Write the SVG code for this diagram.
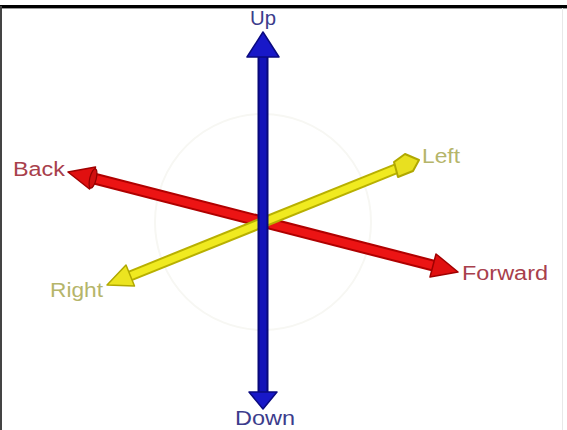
<svg xmlns="http://www.w3.org/2000/svg" width="567" height="430" viewBox="0 0 567 430">
<style>
.lbl{font-family:"Liberation Sans",Arial,sans-serif;font-size:20px}
.blue{fill:#3c3c8c}
.red{fill:#a8404c}
.yel{fill:#b5b56a}
</style>
<rect width="567" height="430" fill="#ffffff"/>
<line x1="0" y1="6.5" x2="567" y2="6.5" stroke="#000" stroke-width="3"/>
<line x1="0" y1="8.5" x2="567" y2="8.5" stroke="#999" stroke-width="1"/>
<line x1="1" y1="6" x2="1" y2="430" stroke="#444" stroke-width="2"/>
<line x1="562.5" y1="8" x2="562.5" y2="430" stroke="#e8e8e8" stroke-width="1"/>
<circle cx="263" cy="222" r="108" fill="none" stroke="#f7f7f3" stroke-width="2"/>
<g id="connectors">
  <g id="red-axis">
    <line x1="92" y1="178" x2="433" y2="265.5" stroke="#b00000" stroke-width="12"/>
    <line x1="92" y1="178" x2="433" y2="265.5" stroke="#ec1414" stroke-width="8"/>
    <polygon points="68,172 89.5,189 95.5,167" fill="#e01010" stroke="#a00000" stroke-width="1.5" stroke-linejoin="round"/>
    <ellipse cx="93" cy="178.5" rx="3.2" ry="10" transform="rotate(14 93 178.5)" fill="#d01010" stroke="#900000" stroke-width="1.2"/>
    <polygon points="458,272 430,277 436,254" fill="#e01010" stroke="#a00000" stroke-width="1.5" stroke-linejoin="round"/>
  </g>
  <g id="yellow-axis">
    <line x1="130" y1="276" x2="398" y2="168" stroke="#b8b000" stroke-width="11"/>
    <line x1="130" y1="276" x2="398" y2="168" stroke="#f0ea20" stroke-width="7"/>
    <polygon points="107,285 126,265 134.5,286" fill="#ece420" stroke="#b0a800" stroke-width="1.5" stroke-linejoin="round"/>
    <polygon points="419,160 413,171 398,177 394,162 405,154" fill="#e8e020" stroke="#b0a800" stroke-width="2" stroke-linejoin="round"/>
  </g>
  <g id="blue-axis">
    <line x1="263" y1="56" x2="263" y2="393" stroke="#08087a" stroke-width="11"/>
    <line x1="263" y1="56" x2="263" y2="393" stroke="#1212b8" stroke-width="7"/>
    <polygon points="263,32 247,57 279,57" fill="#1818c8" stroke="#0a0a80" stroke-width="1.5" stroke-linejoin="round"/>
    <polygon points="263,409 249,392 277,392" fill="#1818c8" stroke="#0a0a80" stroke-width="1.5" stroke-linejoin="round"/>
  </g>
</g>
<g id="node-up"><text class="lbl blue" x="263" y="25" text-anchor="middle" textLength="26" lengthAdjust="spacingAndGlyphs">Up</text></g>
<g id="node-down"><text class="lbl blue" x="235" y="425" textLength="60" lengthAdjust="spacingAndGlyphs">Down</text></g>
<g id="node-back"><text class="lbl red" x="13" y="176" textLength="52" lengthAdjust="spacingAndGlyphs">Back</text></g>
<g id="node-forward"><text class="lbl red" x="462" y="280" textLength="86" lengthAdjust="spacingAndGlyphs">Forward</text></g>
<g id="node-left"><text class="lbl yel" x="422" y="163" textLength="38" lengthAdjust="spacingAndGlyphs">Left</text></g>
<g id="node-right"><text class="lbl yel" x="50" y="297" textLength="53" lengthAdjust="spacingAndGlyphs">Right</text></g>
</svg>
